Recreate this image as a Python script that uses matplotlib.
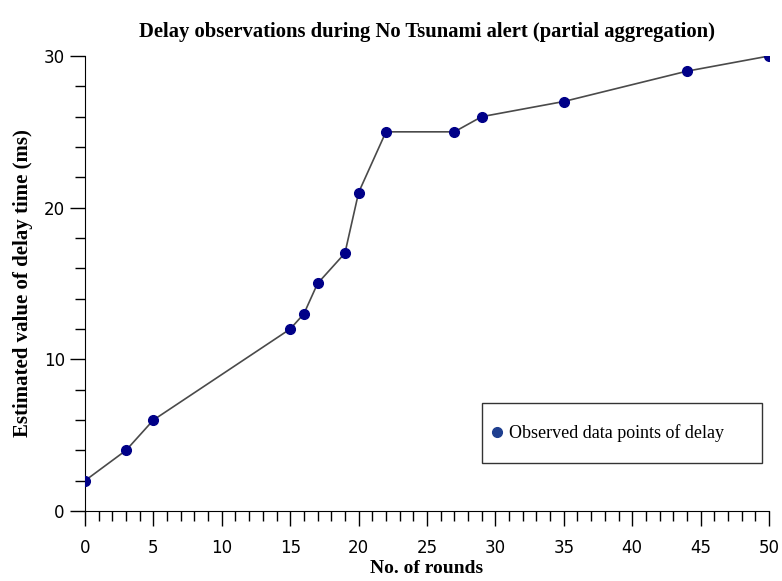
import matplotlib.pyplot as plt
from matplotlib.ticker import MultipleLocator
from matplotlib.patches import Rectangle

rounds = [0, 3, 5, 15, 16, 17, 19, 20, 22, 27, 29, 35, 44, 50]
delay = [2, 4, 6, 12, 13, 15, 17, 21, 25, 25, 26, 27, 29, 30]

titulo = "Delay observations during No Tsunami alert (partial aggregation)"
xlabel = "No. of rounds"
ylabel = "Estimated value of delay time (ms)"
leyenda = "Observed data points of delay"

fig = plt.figure(figsize=(7.82, 5.81), dpi=100)
ax = fig.add_axes([0.1087, 0.1205, 0.8747, 0.7831])

ax.plot(rounds, delay, color="#4a4a4a", lw=1.2, zorder=2)
ax.plot(rounds, delay, ls="none", marker="o", ms=7, color="#000088", zorder=3)

ax.set_xlim(0, 50)
ax.set_ylim(0, 30)
ax.xaxis.set_major_locator(MultipleLocator(5))
ax.xaxis.set_minor_locator(MultipleLocator(1))
ax.yaxis.set_major_locator(MultipleLocator(10))
ax.yaxis.set_minor_locator(MultipleLocator(2))
ax.tick_params(which="major", length=11, width=1, direction="out", labelsize=12)
ax.tick_params(which="minor", length=7, width=1, direction="out")
ax.tick_params(axis="x", which="major", pad=9)
for s in ["top", "right"]:
    ax.spines[s].set_visible(False)

for lab in ax.get_xticklabels() + ax.get_yticklabels():
    lab.set_family(["Liberation Sans Narrow", "DejaVu Sans"])

ax.set_title(titulo, family="Liberation Serif", fontweight="bold", fontsize=14.9, pad=14)
ax.set_xlabel(xlabel, family="Liberation Serif", fontweight="bold", fontsize=14, labelpad=2)
ax.set_ylabel(ylabel, family="Liberation Serif", fontweight="bold", fontsize=15, labelpad=8)

# legend box
ax.add_patch(Rectangle((0.580, 0.1055), 0.410, 0.132, transform=ax.transAxes,
                       fill=False, edgecolor="#333333", lw=1, zorder=4))
leg_h, = ax.plot([], [], ls="none", marker="o", ms=7, color="#1f3f8f")
ax.legend([leg_h], [leyenda], loc="center left", bbox_to_anchor=(0.594, 0.1055 + 0.066),
          frameon=False, prop={"family": "Liberation Serif", "size": 13},
          handlelength=0.6, handletextpad=0.4, borderpad=0, borderaxespad=0)

plt.savefig("out.png", dpi=100)
